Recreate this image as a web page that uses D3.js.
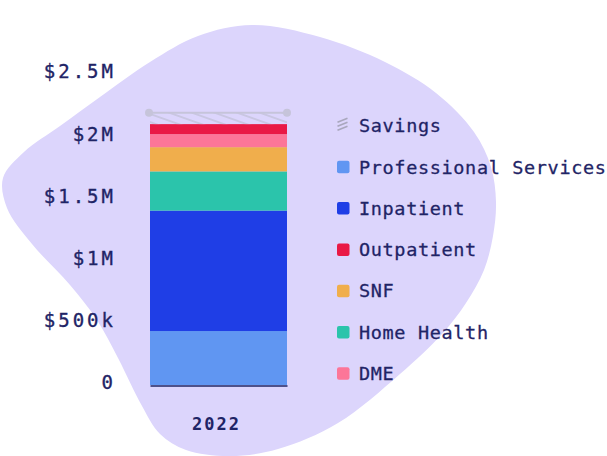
<!DOCTYPE html>
<html>
<head>
<meta charset="utf-8">
<script src="https://cdn.jsdelivr.net/npm/d3@7"></script>
<style>
  html, body { margin: 0; padding: 0; background: #ffffff; }
  svg { display: block; }
</style>
</head>
<body>
<svg id="chart" width="607" height="456"></svg>
<script>
// ---- data ----
const years = ["2022"];
const stackOrder = ["Professional Services", "Inpatient", "Home Health", "SNF", "DME", "Outpatient", "Savings"];
const professionalServices = [434000];
const inpatient = [968000];
const homeHealth = [315000];
const snf = [195000];
const dme = [105000];
const outpatient = [80000];
const savings = [95000];
const legendOrder = ["Savings", "Professional Services", "Inpatient", "Outpatient", "SNF", "Home Health", "DME"];
const tickValues = [0, 500000, 1000000, 1500000, 2000000, 2500000];
const tickLabels = ["0", "$500k", "$1M", "$1.5M", "$2M", "$2.5M"];

const seriesValues = {
  "Professional Services": professionalServices,
  "Inpatient": inpatient,
  "Home Health": homeHealth,
  "SNF": snf,
  "DME": dme,
  "Outpatient": outpatient,
  "Savings": savings
};
const colors = {
  "Professional Services": "#6096f2",
  "Inpatient": "#1f3ee6",
  "Home Health": "#2bc4ab",
  "SNF": "#f0ae4c",
  "DME": "#fc7698",
  "Outpatient": "#e91945",
  "Savings": "url(#hatch)"
};
const textColor = "#1f2466";
const monoFont = "'DejaVu Sans Mono', 'Liberation Mono', monospace";

const svg = d3.select("#chart");
const defs = svg.append("defs");
defs.append("pattern")
  .attr("id", "hatch")
  .attr("patternUnits", "userSpaceOnUse")
  .attr("width", 20).attr("height", 7.6)
  .attr("patternTransform", "rotate(19.6)")
  .append("line")
  .attr("x1", 0).attr("x2", 20).attr("y1", 3.8).attr("y2", 3.8)
  .attr("stroke", "#c6c3dd").attr("stroke-width", 1.6);

// ---- blob background ----
const blobPts = [
  [252, 25], [320, 37], [385, 62], [436, 93], [474, 132], [491, 167], [496, 202], [493, 236],
  [484, 270], [466, 303], [442, 334], [400, 374], [338, 423], [278, 449], [230, 456],
  [186, 450], [160, 434], [142, 406], [118, 358], [97, 320], [70, 285], [32, 244], [7, 208],
  [3, 178], [24, 152], [60, 126], [100, 97], [150, 62], [198, 36]
];
svg.append("path")
  .attr("d", d3.line().curve(d3.curveCatmullRomClosed.alpha(0.5))(blobPts))
  .attr("fill", "#dcd5fc");

// ---- scales ----
const x = d3.scaleBand().domain(years).range([150, 287]).padding(0);
const y = d3.scaleLinear().domain([0, 2500000]).range([385, 74]);

const stackData = years.map((yr, i) => {
  const o = { year: yr };
  stackOrder.forEach(k => { o[k] = seriesValues[k][i]; });
  return o;
});
const stacked = d3.stack().keys(stackOrder)(stackData);

const g = svg.append("g");
stacked.forEach(layer => {
  g.selectAll(null).data(layer).enter().append("rect")
    .attr("x", d => x(d.data.year))
    .attr("width", x.bandwidth())
    .attr("y", d => y(d[1]))
    .attr("height", d => y(d[0]) - y(d[1]))
    .attr("fill", colors[layer.key]);
});

// savings top marker line with end dots
const savLayer = stacked[stacked.length - 1];
savLayer.forEach(d => {
  const yy = y(d[1]) + 0.5;
  const x0 = x(d.data.year) - 1, x1 = x(d.data.year) + x.bandwidth();
  g.append("line").attr("x1", x0).attr("x2", x1).attr("y1", yy).attr("y2", yy)
    .attr("stroke", "#c6c4da").attr("stroke-width", 2);
  [x0, x1].forEach(cx => g.append("circle").attr("cx", cx).attr("cy", yy).attr("r", 4).attr("fill", "#c6c4da"));
});

// ---- axes ----
const yAxis = d3.axisLeft(y).tickValues(tickValues)
  .tickFormat((d, i) => tickLabels[i]).tickSize(0).tickPadding(0);
const ya = svg.append("g").attr("transform", "translate(116,0)").call(yAxis);
ya.select(".domain").remove();
ya.selectAll("text")
  .attr("font-family", monoFont).attr("font-size", 19).attr("letter-spacing", "3px")
  .attr("fill", textColor).attr("stroke", textColor).attr("stroke-width", 0.35)
  .attr("dy", "0.2em");

const xAxis = d3.axisBottom(x).tickSize(0).tickPadding(0);
const xa = svg.append("g").attr("transform", "translate(0,385.5)").call(xAxis);
xa.select(".domain").attr("stroke", textColor).attr("stroke-width", 1.5);
xa.selectAll("text")
  .attr("font-family", monoFont).attr("font-size", 17).attr("font-weight", "bold")
  .attr("letter-spacing", "2px").attr("fill", textColor)
  .attr("dy", 0).attr("y", 44.5).attr("dx", -2);

// ---- legend ----
const legend = svg.append("g");
legendOrder.forEach((k, i) => {
  const cy = 125.7 + i * 41.3;
  const row = legend.append("g");
  if (k === "Savings") {
    [0, 1, 2].forEach(j => {
      row.append("line")
        .attr("x1", 337.5).attr("x2", 347.5)
        .attr("y1", cy - 2 + (j - 1) * 4 + 2.5).attr("y2", cy - 2 + (j - 1) * 4 - 1.5)
        .attr("stroke", "#a9a7bd").attr("stroke-width", 1.6);
    });
  } else {
    row.append("rect").attr("x", 337).attr("y", cy - 6.2).attr("width", 12.5).attr("height", 12.5)
      .attr("rx", 2).attr("fill", colors[k]);
  }
  row.append("text").attr("x", 359).attr("y", cy + 6.5)
    .attr("font-family", monoFont).attr("font-size", 18.5).attr("letter-spacing", "0.65px")
    .attr("fill", textColor).attr("stroke", textColor).attr("stroke-width", 0.3)
    .text(k);
});
</script>
</body>
</html>
